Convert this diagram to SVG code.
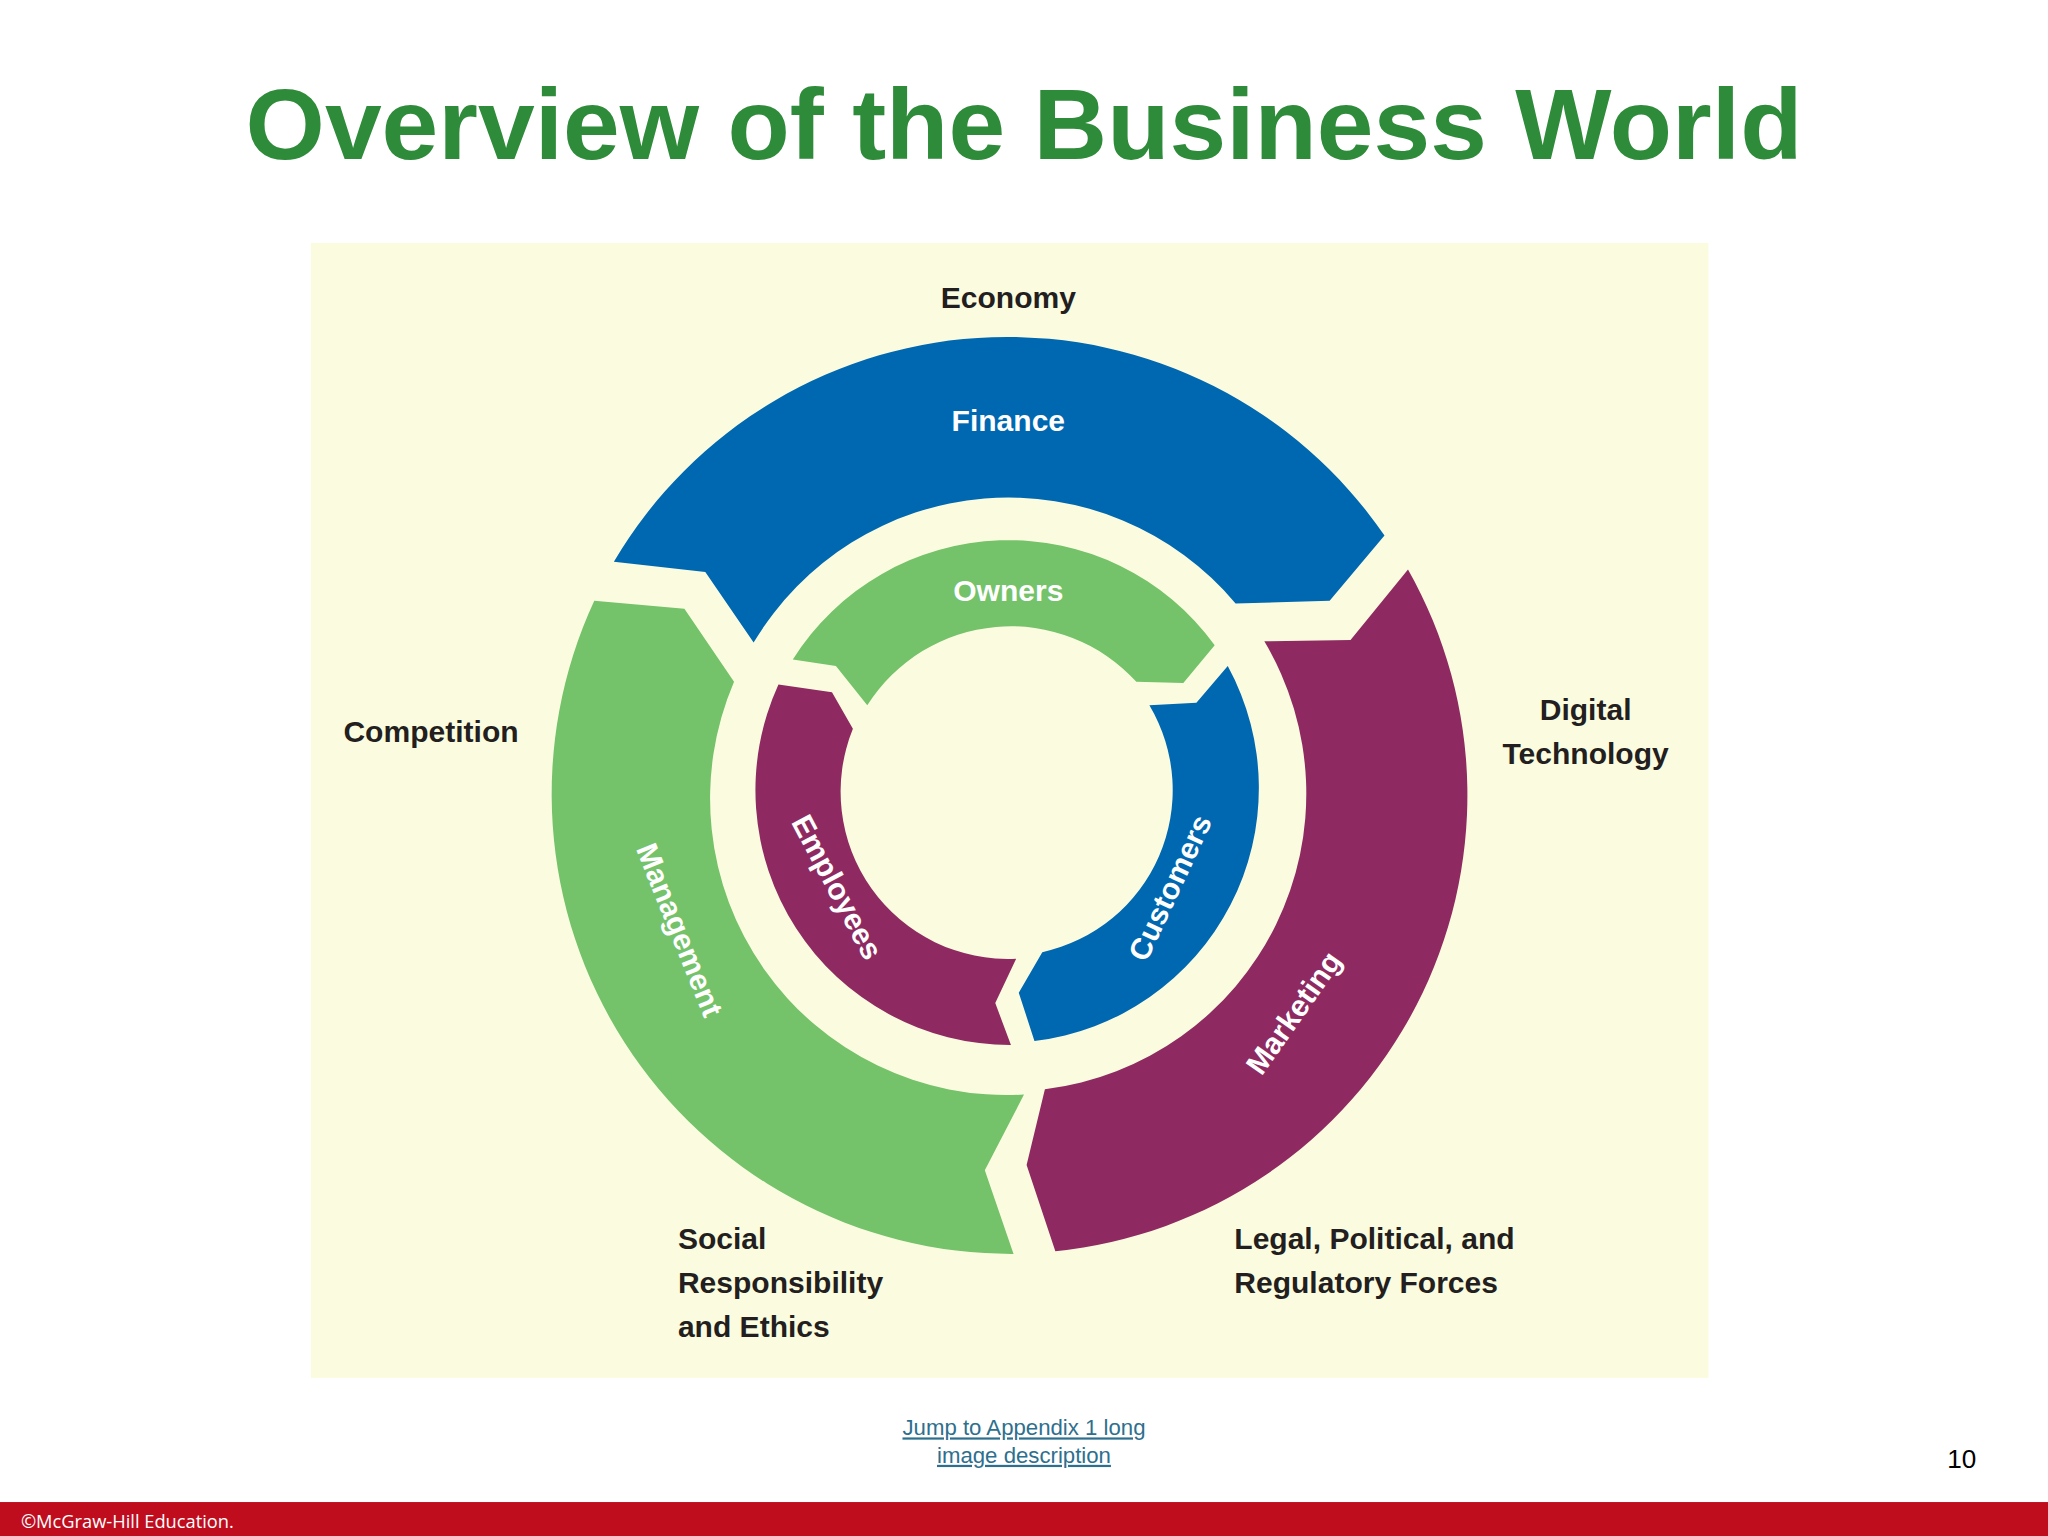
<svg xmlns="http://www.w3.org/2000/svg" width="2048" height="1536" viewBox="0 0 2048 1536">
<style>
.seg{stroke:none}
.b{fill:#0067b1}.g{fill:#74c26a}.p{fill:#8e2a61}
.wl{font-family:"Liberation Sans",Arial,sans-serif;font-weight:bold;font-size:23px;fill:#fff;text-anchor:middle}
.ol{font-family:"Liberation Sans",Arial,sans-serif;font-weight:bold;font-size:23px;fill:#231f20}
</style>
<rect width="2048" height="1536" fill="#fff"/>
<g transform="scale(1.306122)">
<text x="784" y="122" text-anchor="middle" font-family="Liberation Sans,Arial,sans-serif" font-weight="bold" font-size="76" fill="#2e8b3a" textLength="1192" lengthAdjust="spacingAndGlyphs">Overview of the Business World</text>
<rect x="238" y="186" width="1070" height="869" fill="#fbfcdf"/>
<g id="finance"><path class="seg b" d="M470,430 A350,350 0 0 1 1060,410 L1018,460 L946,462 A227,227 0 0 0 577,492 L540,438 Z"/><text class="wl" x="772" y="330">Finance</text></g>
<g id="marketing"><path class="seg p" d="M1078,436 A351,351 0 0 1 808,958 L786,892 L800,834 A228,228 0 0 0 968,491 L1034,490 Z"/><text class="wl" transform="translate(997,780) rotate(-55)">Marketing</text></g>
<g id="management"><path class="seg g" d="M776,960 A352,352 0 0 1 455,460 L524,466 L562,522 A227,227 0 0 0 784,838 L754,896 Z"/><text class="wl" transform="translate(513,715) rotate(68)">Management</text></g>
<g id="owners"><path class="seg g" d="M607,505 A195,195 0 0 1 930,494 L906,523 L870,522 A130,130 0 0 0 664,540 L640,510 Z"/><text class="wl" x="772" y="460">Owners</text></g>
<g id="customers"><path class="seg b" d="M940,510 A195,195 0 0 1 792,797 L780,760 L798,729 A127,127 0 0 0 880,540 L916,538 Z"/><text class="wl" transform="translate(903,683) rotate(-65)">Customers</text></g>
<g id="employees"><path class="seg p" d="M774,800 A195,195 0 0 1 596,524 L637,530 L653,558 A128,128 0 0 0 778,734 L762,768 Z"/><text class="wl" transform="translate(634,683) rotate(62)">Employees</text></g>
<g id="labels">
<text class="ol" x="772" y="236" text-anchor="middle">Economy</text>
<text class="ol" x="330" y="568" text-anchor="middle">Competition</text>
<text class="ol" x="1214" y="551" text-anchor="middle">Digital</text>
<text class="ol" x="1214" y="585" text-anchor="middle">Technology</text>
<text class="ol" x="519" y="956">Social</text>
<text class="ol" x="519" y="990">Responsibility</text>
<text class="ol" x="519" y="1024">and Ethics</text>
<text class="ol" x="945" y="956">Legal, Political, and</text>
<text class="ol" x="945" y="990">Regulatory Forces</text>
</g>
<g id="connectors"/>
<g font-family="Liberation Sans,Arial,sans-serif" font-size="17" fill="#2e6f8e" text-anchor="middle" text-decoration="underline">
<text x="784" y="1099">Jump to Appendix 1 long</text>
<text x="784" y="1120">image description</text>
</g>
<text x="1502" y="1124" text-anchor="middle" font-family="Liberation Sans,Arial,sans-serif" font-size="20" fill="#000">10</text>
<rect x="0" y="1150" width="1568" height="27" fill="#c00d1e"/>
<text x="16" y="1170" font-family="Open Sans,Liberation Sans,sans-serif" font-size="14" fill="#fff">©McGraw-Hill Education.</text>
</g>
</svg>
